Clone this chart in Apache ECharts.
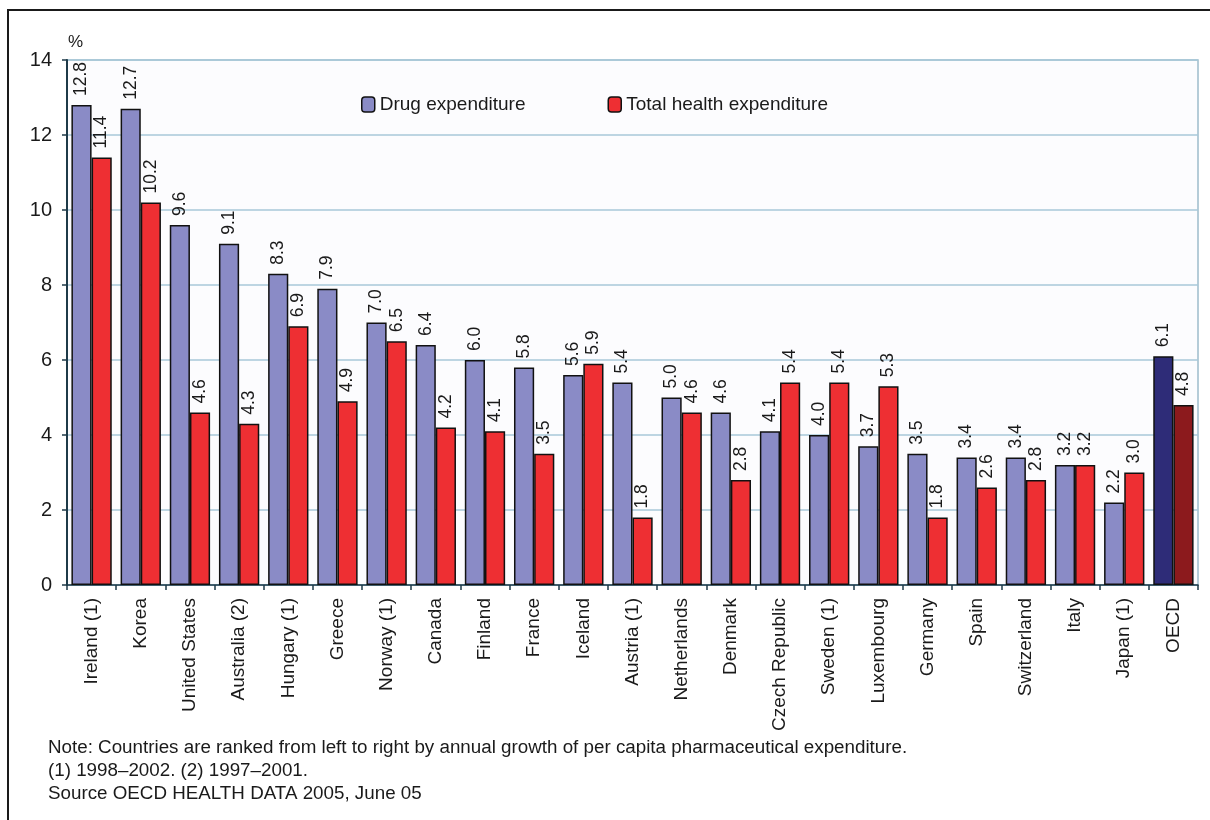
<!DOCTYPE html>
<html>
<head>
<meta charset="utf-8">
<script src="https://cdn.jsdelivr.net/npm/echarts@6/dist/echarts.min.js"></script>
<style>
  html, body { margin: 0; padding: 0; background: #ffffff; }
  #chart { width: 1210px; height: 820px; }
</style>
</head>
<body>
<div id="chart"></div>
<script>
// Annual growth of pharmaceutical and total health expenditure, per capita (%)
const countries = ['Ireland (1)', 'Korea', 'United States', 'Australia (2)', 'Hungary (1)', 'Greece',
  'Norway (1)', 'Canada', 'Finland', 'France', 'Iceland', 'Austria (1)', 'Netherlands', 'Denmark',
  'Czech Republic', 'Sweden (1)', 'Luxembourg', 'Germany', 'Spain', 'Switzerland', 'Italy',
  'Japan (1)', 'OECD'];
const drugExpenditure = [12.8, 12.7, 9.6, 9.1, 8.3, 7.9, 7.0, 6.4, 6.0, 5.8, 5.6, 5.4, 5.0, 4.6,
  4.1, 4.0, 3.7, 3.5, 3.4, 3.4, 3.2, 2.2, 6.1];
const totalHealthExpenditure = [11.4, 10.2, 4.6, 4.3, 6.9, 4.9, 6.5, 4.2, 4.1, 3.5, 5.9, 1.8, 4.6,
  2.8, 5.4, 5.4, 5.3, 1.8, 2.6, 2.8, 3.2, 3.0, 4.8];
const yTicks = [0, 2, 4, 6, 8, 10, 12, 14];
const noteLines = [
  'Note: Countries are ranked from left to right by annual growth of per capita pharmaceutical expenditure.',
  '(1) 1998\u20132002. (2) 1997\u20132001.',
  'Source OECD HEALTH DATA 2005, June 05'
];

const FONT = '"Liberation Sans", Arial, Helvetica, sans-serif';
const DRUG = '#8a8bc6', TOTAL = '#ee2f33';
const DRUG_AVG = '#2e2c78', TOTAL_AVG = '#8c1a1d';

function seriesData(values, color, avgColor) {
  return values.map((v, i) => ({
    value: v,
    itemStyle: { color: countries[i] === 'OECD' ? avgColor : color }
  }));
}

const barLabel = {
  show: true,
  position: 'top',
  rotate: 90,
  align: 'left',
  verticalAlign: 'middle',
  distance: 9,
  color: '#1a1a1a',
  fontFamily: FONT,
  fontSize: 17.5,
  formatter: p => p.value.toFixed(1)
};

const chart = echarts.init(document.getElementById('chart'), null, { renderer: 'canvas' });
chart.setOption({
  animation: false,
  backgroundColor: '#ffffff',
  textStyle: { fontFamily: FONT },
  grid: {
    left: 67, right: 12, top: 60, bottom: 235,
    show: true, backgroundColor: '#fcfcfe', borderColor: '#9dbccb', borderWidth: 1.5
  },
  legend: {
    left: 356, top: 90,
    itemWidth: 13, itemHeight: 15, itemGap: 82,
    textStyle: { fontFamily: FONT, fontSize: 19, color: '#1a1a1a' },
    data: [
      { name: 'Drug expenditure', itemStyle: { color: DRUG, borderColor: '#111', borderWidth: 1.5 } },
      { name: 'Total health expenditure', itemStyle: { color: TOTAL, borderColor: '#111', borderWidth: 1.5 } }
    ]
  },
  xAxis: {
    type: 'category',
    data: countries,
    axisLine: { lineStyle: { color: '#1e3a48', width: 1.5 } },
    axisTick: { show: true, length: 5, lineStyle: { color: '#1e3a48', width: 1.5 } },
    axisLabel: {
      rotate: 90, margin: 13, interval: 0,
      color: '#1a1a1a', fontFamily: FONT, fontSize: 19
    }
  },
  yAxis: {
    type: 'value',
    min: yTicks[0], max: yTicks[yTicks.length - 1], interval: 2,
    axisLine: { show: true, lineStyle: { color: '#1e3a48', width: 2 } },
    axisTick: { show: true, length: 5, lineStyle: { color: '#1e3a48', width: 1.5 } },
    axisLabel: { margin: 15, color: '#1a1a1a', fontFamily: FONT, fontSize: 20 },
    splitLine: { lineStyle: { color: '#a8c9d9', width: 1.5 } }
  },
  series: [
    {
      name: 'Drug expenditure', type: 'bar',
      data: seriesData(drugExpenditure, DRUG, DRUG_AVG),
      barGap: '0%', barCategoryGap: '18%',
      itemStyle: { color: DRUG, borderColor: '#111', borderWidth: 1.5 },
      label: barLabel
    },
    {
      name: 'Total health expenditure', type: 'bar',
      data: seriesData(totalHealthExpenditure, TOTAL, TOTAL_AVG),
      barGap: '0%', barCategoryGap: '18%',
      itemStyle: { color: TOTAL, borderColor: '#111', borderWidth: 1.5 },
      label: barLabel
    }
  ],
  graphic: [
    {
      type: 'rect', silent: true,
      shape: { x: 8, y: 10, width: 1400, height: 1000 },
      style: { fill: 'none', stroke: '#1a1a1a', lineWidth: 2 }
    },
    {
      type: 'text', left: 68, top: 34,
      style: { text: '%', font: '17px ' + FONT, fill: '#1a1a1a' }
    },
    ...noteLines.map((t, i) => ({
      type: 'text', left: 48, top: 738 + i * 23,
      style: { text: t, font: '18.8px ' + FONT, fill: '#1a1a1a' }
    }))
  ]
});
</script>
</body>
</html>
